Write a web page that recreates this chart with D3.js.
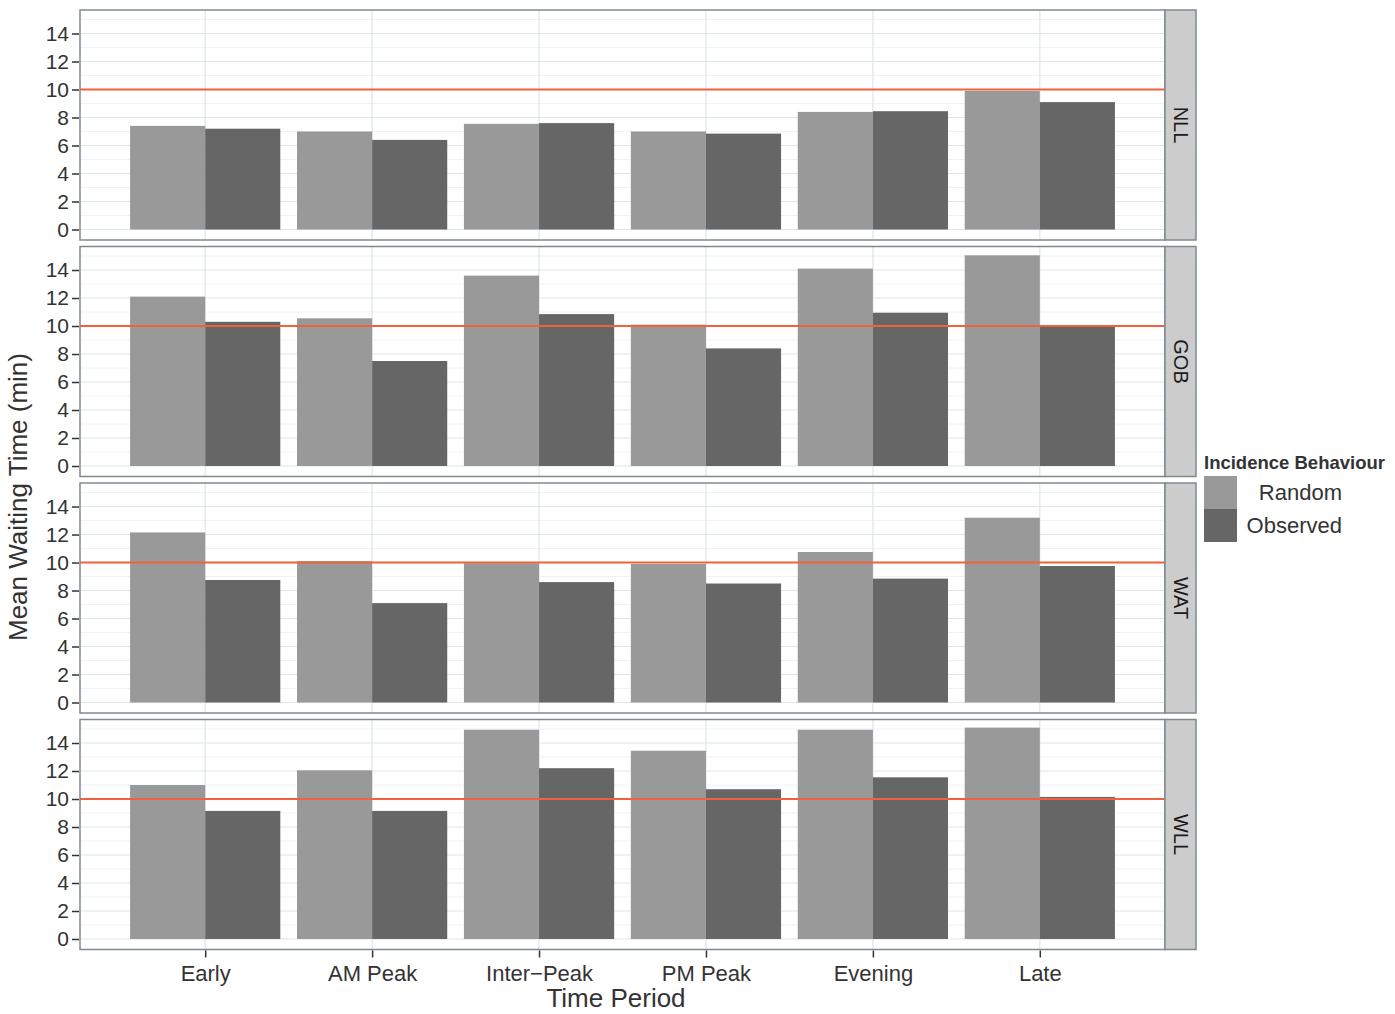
<!DOCTYPE html>
<html>
<head>
<meta charset="utf-8">
<script src="https://cdn.jsdelivr.net/npm/d3@7"></script>
<style>
  html, body { margin: 0; padding: 0; background: #ffffff; }
  svg { display: block; font-family: "Liberation Sans", Arial, sans-serif; }
</style>
</head>
<body>
<svg id="chart" width="1395" height="1014"></svg>
<script>
// ---- data ----
const periods = ["Early", "AM Peak", "Inter\u2212Peak", "PM Peak", "Evening", "Late"];
const stations = ["NLL", "GOB", "WAT", "WLL"];
const behaviours = ["Random", "Observed"];
const yTicks = [0, 2, 4, 6, 8, 10, 12, 14];
const threshold = 10;

const randomNLL   = [7.4, 7.0, 7.55, 7.0, 8.4, 9.9];
const observedNLL = [7.2, 6.4, 7.6, 6.85, 8.45, 9.1];
const randomGOB   = [12.1, 10.55, 13.6, 10.1, 14.1, 15.05];
const observedGOB = [10.3, 7.5, 10.85, 8.4, 10.95, 10.0];
const randomWAT   = [12.15, 10.1, 9.95, 9.9, 10.75, 13.2];
const observedWAT = [8.75, 7.1, 8.6, 8.5, 8.85, 9.75];
const randomWLL   = [11.0, 12.05, 14.95, 13.45, 14.95, 15.1];
const observedWLL = [9.15, 9.15, 12.2, 10.7, 11.55, 10.15];

const seriesByStation = {
  NLL: [randomNLL, observedNLL],
  GOB: [randomGOB, observedGOB],
  WAT: [randomWAT, observedWAT],
  WLL: [randomWLL, observedWLL]
};

// ---- styles ----
const fillColors = ["#999999", "#666666"];
const textColor = "#333333";
const panelLeft = 80, panelRight = 1165, stripW = 31;
const panelTop0 = 10, panelStep = 236.5, panelH = 230;

const svg = d3.select("#chart");

const x = d3.scalePoint().domain(periods).range([panelLeft, panelRight]).padding(0.75);
const step = x.step();
const barW = step * 0.9;
const sub = d3.scaleBand().domain(behaviours).range([-barW / 2, barW / 2]).padding(0);

stations.forEach((st, i) => {
  const top = panelTop0 + i * panelStep;
  const bottom = top + panelH;
  const y = d3.scaleLinear().domain([-0.75, 15.68]).range([bottom, top]);
  const g = svg.append("g");

  g.append("rect").attr("x", panelLeft).attr("y", top)
    .attr("width", panelRight - panelLeft).attr("height", panelH)
    .attr("fill", "#ffffff");

  const minor = d3.range(1, 16, 2);
  g.selectAll(".minor").data(minor).enter().append("line")
    .attr("x1", panelLeft).attr("x2", panelRight)
    .attr("y1", d => y(d)).attr("y2", d => y(d))
    .attr("stroke", "#eef2f6").attr("stroke-width", 1);
  g.selectAll(".major").data(yTicks).enter().append("line")
    .attr("x1", panelLeft).attr("x2", panelRight)
    .attr("y1", d => y(d)).attr("y2", d => y(d))
    .attr("stroke", "#dce5ee").attr("stroke-width", 1.2);
  g.selectAll(".vgrid").data(periods).enter().append("line")
    .attr("x1", d => x(d)).attr("x2", d => x(d))
    .attr("y1", top).attr("y2", bottom)
    .attr("stroke", "#dce5ee").attr("stroke-width", 1.2);

  const series = seriesByStation[st];
  behaviours.forEach((b, bi) => {
    g.selectAll(".bar" + bi).data(periods).enter().append("rect")
      .attr("x", d => x(d) + sub(b))
      .attr("width", sub.bandwidth())
      .attr("y", (d, k) => y(series[bi][k]))
      .attr("height", (d, k) => y(0) - y(series[bi][k]))
      .attr("fill", fillColors[bi]);
  });

  g.append("line")
    .attr("x1", panelLeft).attr("x2", panelRight)
    .attr("y1", y(threshold)).attr("y2", y(threshold))
    .attr("stroke", "#f2603f").attr("stroke-width", 2);

  g.append("rect").attr("x", panelLeft).attr("y", top)
    .attr("width", panelRight - panelLeft).attr("height", panelH)
    .attr("fill", "none").attr("stroke", "#7f8a90").attr("stroke-width", 1.5);

  g.append("rect").attr("x", panelRight).attr("y", top)
    .attr("width", stripW).attr("height", panelH)
    .attr("fill", "#cccccc").attr("stroke", "#7f8a90").attr("stroke-width", 1.5);
  g.append("text")
    .attr("transform", `translate(${panelRight + stripW / 2},${top + panelH / 2}) rotate(90)`)
    .attr("text-anchor", "middle").attr("dominant-baseline", "central")
    .attr("font-size", 20).attr("fill", "#1a1a1a").text(st);

  const yAxis = d3.axisLeft(y).tickValues(yTicks).tickSize(7).tickPadding(3);
  const ya = g.append("g").attr("transform", `translate(${panelLeft - 1},0)`).call(yAxis);
  ya.select(".domain").remove();
  ya.selectAll(".tick line").attr("stroke", "#333333").attr("stroke-width", 1.5);
  ya.selectAll(".tick text").attr("font-size", 21).attr("fill", textColor)
    .attr("font-family", "Liberation Sans, Arial, sans-serif");

  if (i === stations.length - 1) {
    const xAxis = d3.axisBottom(x).tickSize(7).tickPadding(8);
    const xa = g.append("g").attr("transform", `translate(0,${bottom + 1})`).call(xAxis);
    xa.select(".domain").remove();
    xa.selectAll(".tick line").attr("stroke", "#333333").attr("stroke-width", 1.5);
    xa.selectAll(".tick text").attr("font-size", 22).attr("fill", textColor)
      .attr("font-family", "Liberation Sans, Arial, sans-serif");
  }
});

svg.append("text").attr("x", 616).attr("y", 1007)
  .attr("text-anchor", "middle").attr("font-size", 26).attr("fill", textColor)
  .text("Time Period");
svg.append("text")
  .attr("transform", "translate(27,497) rotate(-90)")
  .attr("text-anchor", "middle").attr("font-size", 26).attr("fill", textColor)
  .text("Mean Waiting Time (min)");

// legend
const lg = svg.append("g");
lg.append("text").attr("x", 1204).attr("y", 469)
  .attr("font-size", 18.5).attr("font-weight", "bold").attr("fill", textColor)
  .text("Incidence Behaviour");
behaviours.forEach((b, bi) => {
  const ky = 476 + bi * 33;
  lg.append("rect").attr("x", 1204).attr("y", ky).attr("width", 33).attr("height", 33)
    .attr("fill", fillColors[bi]);
  lg.append("text").attr("x", 1342).attr("y", ky + 16.5)
    .attr("text-anchor", "end").attr("dominant-baseline", "central")
    .attr("font-size", 22).attr("fill", textColor).text(b);
});
</script>
</body>
</html>
